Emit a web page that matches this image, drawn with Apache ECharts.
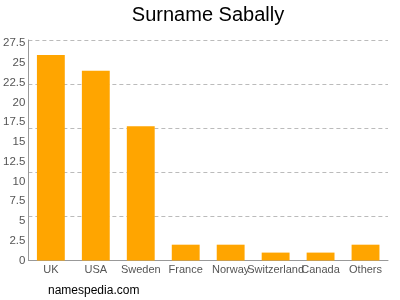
<!DOCTYPE html>
<html><head><meta charset="utf-8">
<script src="https://cdn.jsdelivr.net/npm/echarts@6/dist/echarts.min.js"></script>
<style>html,body{margin:0;padding:0;background:#fff}#c{width:400px;height:300px}</style>
</head><body><div id="c"></div>
<script>
const categories = ["UK","USA","Sweden","France","Norway","Switzerland","Canada","Others"];
const values = [26,24,17,2,2,1,1,2];
const yTicks = [0,2.5,5,7.5,10,12.5,15,17.5,20,22.5,25,27.5];
const yMax = 27.9;
const chart = echarts.init(document.getElementById('c'), null, {renderer:'canvas'});
chart.setOption({
  animation:false,
  graphic:[
    {type:'text', x:208, y:5, style:{text:'Surname Sabally', align:'center', verticalAlign:'top', fontFamily:'Liberation Sans, Arial', fontSize:20, fill:'#000'}},
    {type:'text', x:48, y:285, style:{text:'namespedia.com', fontFamily:'Liberation Sans, Arial', fontSize:12, fill:'#000'}}],
  grid:{left:28, right:12, top:40, bottom:39.5, containLabel:false},
  xAxis:{type:'category', data:categories,
    axisLine:{lineStyle:{color:'#999'}},
    axisTick:{alignWithLabel:true, length:3, lineStyle:{color:'#999'}},
    axisLabel:{color:'#555', fontFamily:'Liberation Sans, Arial', fontSize:11, margin:4, interval:0}},
  yAxis:[{type:'value', min:0, max:yMax, interval:2.5,
    axisLine:{show:true, lineStyle:{color:'#999'}},
    axisTick:{show:false},
    splitLine:{show:false},
    axisLabel:{color:'#555', fontFamily:'Liberation Sans, Arial', fontSize:11.5, margin:3,
      formatter:v=>yTicks.some(t=>Math.abs(t-v)<1e-6)?String(v):''}},
   {type:'value', min:0, max:yMax, interval:yMax/5, position:'left',
    axisLine:{show:false}, axisTick:{show:false}, axisLabel:{show:false},
    splitLine:{show:true, lineStyle:{color:'#bbb', type:[4,3], width:1}}}],
  series:[{type:'bar', data:values, yAxisIndex:0, barWidth:'62%', itemStyle:{color:'#FFA500'}}]
});
</script></body></html>
